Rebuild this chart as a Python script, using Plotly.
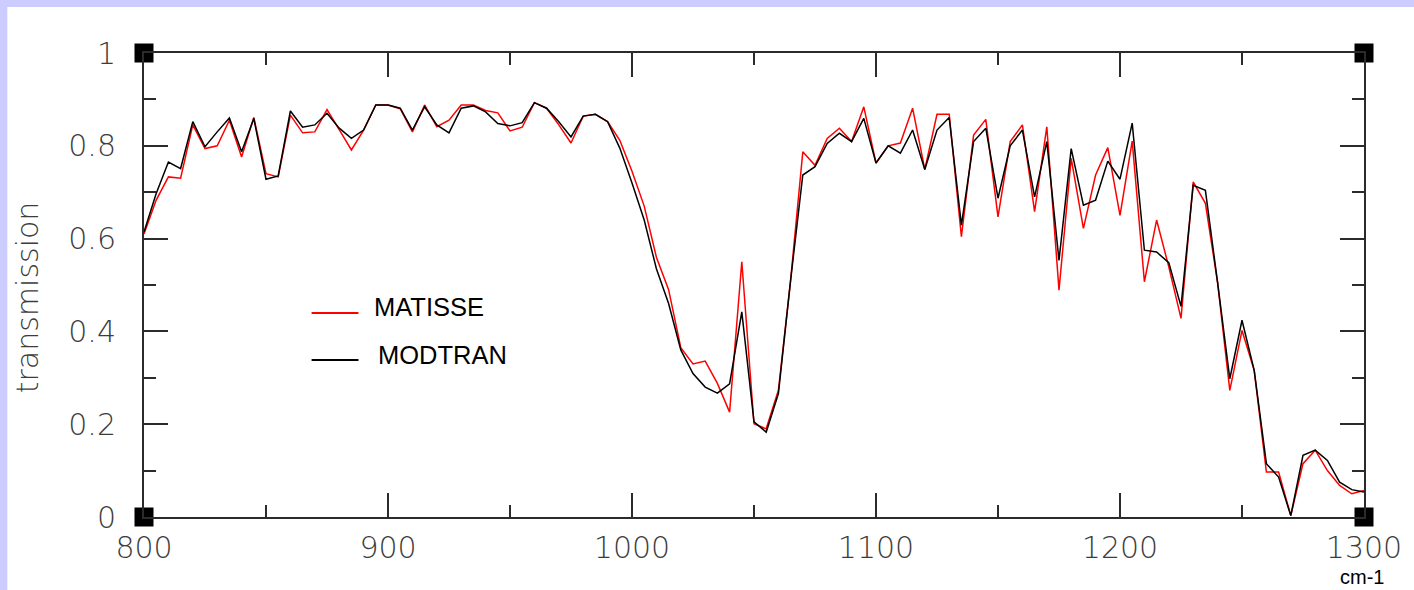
import plotly.graph_objects as go

# ---------------- data ----------------
wavenumber = [800, 805, 810, 815, 820, 825, 830, 835, 840, 845,
              850, 855, 860, 865, 870, 875, 880, 885, 890, 895,
              900, 905, 910, 915, 920, 925, 930, 935, 940, 945,
              950, 955, 960, 965, 970, 975, 980, 985, 990, 995,
              1000, 1005, 1010, 1015, 1020, 1025, 1030, 1035, 1040, 1045,
              1050, 1055, 1060, 1065, 1070, 1075, 1080, 1085, 1090, 1095,
              1100, 1105, 1110, 1115, 1120, 1125, 1130, 1135, 1140, 1145,
              1150, 1155, 1160, 1165, 1170, 1175, 1180, 1185, 1190, 1195,
              1200, 1205, 1210, 1215, 1220, 1225, 1230, 1235, 1240, 1245,
              1250, 1255, 1260, 1265, 1270, 1275, 1280, 1285, 1290, 1295,
              1300]

modtran = [0.614, 0.697, 0.765, 0.751, 0.852, 0.798, 0.830, 0.860, 0.787, 0.859,
           0.728, 0.735, 0.875, 0.840, 0.845, 0.870, 0.838, 0.816, 0.834, 0.888,
           0.888, 0.881, 0.834, 0.884, 0.845, 0.828, 0.881, 0.886, 0.873, 0.848,
           0.843, 0.850, 0.893, 0.881, 0.852, 0.819, 0.864, 0.868, 0.852, 0.795,
           0.720, 0.640, 0.535, 0.460, 0.360, 0.309, 0.280, 0.267, 0.287, 0.442,
           0.205, 0.183, 0.266, 0.510, 0.737, 0.755, 0.805, 0.827, 0.809, 0.859,
           0.763, 0.800, 0.784, 0.834, 0.749, 0.834, 0.861, 0.629, 0.809, 0.838,
           0.687, 0.800, 0.834, 0.690, 0.809, 0.553, 0.794, 0.672, 0.683, 0.767,
           0.728, 0.849, 0.575, 0.571, 0.548, 0.454, 0.715, 0.704, 0.505, 0.298,
           0.424, 0.316, 0.115, 0.086, 0.003, 0.133, 0.144, 0.122, 0.075, 0.059,
           0.054]

matisse = [0.610, 0.683, 0.733, 0.730, 0.845, 0.794, 0.800, 0.855, 0.776, 0.861,
           0.740, 0.733, 0.866, 0.828, 0.830, 0.878, 0.835, 0.791, 0.834, 0.888,
           0.888, 0.880, 0.830, 0.888, 0.841, 0.855, 0.888, 0.888, 0.876, 0.871,
           0.832, 0.840, 0.893, 0.881, 0.845, 0.806, 0.864, 0.868, 0.852, 0.812,
           0.745, 0.670, 0.560, 0.490, 0.365, 0.330, 0.336, 0.288, 0.226, 0.550,
           0.201, 0.190, 0.273, 0.510, 0.787, 0.758, 0.816, 0.838, 0.809, 0.884,
           0.763, 0.800, 0.806, 0.881, 0.749, 0.868, 0.868, 0.604, 0.823, 0.857,
           0.647, 0.809, 0.845, 0.658, 0.841, 0.489, 0.773, 0.622, 0.737, 0.796,
           0.650, 0.810, 0.507, 0.640, 0.539, 0.428, 0.722, 0.676, 0.505, 0.273,
           0.402, 0.316, 0.097, 0.097, 0.003, 0.115, 0.144, 0.100, 0.068, 0.050,
           0.057]

x_range = [800, 1300]
y_range = [0, 1]
x_tickvals = [800, 900, 1000, 1100, 1200, 1300]
x_ticktext = ["800", "900", "1000", "1100", "1200", "1300"]
y_tickvals = [0, 0.2, 0.4, 0.6, 0.8, 1]
y_ticktext = ["0", "0.2", "0.4", "0.6", "0.8", "1"]

# ---------------- layout constants ----------------
W, H = 1414, 590
ML, MR, MT, MB = 144, 47, 53, 73
PW, PH = W - ML - MR, H - MT - MB


def px(xp):
    return (xp - ML) / PW


def py(yp):
    return (H - MB - yp) / PH


AXIS_COLOR = "#2b2b2b"
LABEL_COLOR = "#3c3c3c"
THIN_FONT = "DejaVu Sans"

fig = go.Figure()

fig.add_trace(go.Scatter(x=wavenumber, y=matisse, mode="lines", name="MATISSE",
                         line=dict(color="#ff0000", width=1.5), showlegend=False))
fig.add_trace(go.Scatter(x=wavenumber, y=modtran, mode="lines", name="MODTRAN",
                         line=dict(color="#000000", width=1.5), showlegend=False))

# corner squares
fig.add_trace(go.Scatter(
    x=[x_range[0], x_range[0], x_range[1], x_range[1]],
    y=[y_range[0], y_range[1], y_range[0], y_range[1]],
    mode="markers", cliponaxis=False, showlegend=False, hoverinfo="skip",
    marker=dict(symbol="square", size=19, color="#000000", line=dict(width=0))))

axis_common = dict(
    showgrid=False, zeroline=False, showline=True, linecolor=AXIS_COLOR,
    linewidth=2, mirror="ticks", ticks="inside", tickcolor=AXIS_COLOR,
    tickwidth=2, ticklen=24,
    tickfont=dict(family=THIN_FONT, size=30, color=LABEL_COLOR, weight=200),
)

fig.update_xaxes(range=x_range, tickvals=x_tickvals, ticktext=x_ticktext,
                 minor=dict(ticks="inside", ticklen=12, dtick=50,
                            tickcolor=AXIS_COLOR, tickwidth=2),
                 ticklabelstandoff=3, **axis_common)
fig.update_yaxes(range=y_range, tickvals=y_tickvals, ticktext=y_ticktext,
                 minor=dict(ticks="inside", ticklen=12, dtick=0.1,
                            tickcolor=AXIS_COLOR, tickwidth=2),
                 ticklabelstandoff=20, **axis_common)

annotations = [
    dict(text="transmission", x=px(27), y=py(297), xref="paper", yref="paper",
         showarrow=False, textangle=-90, xanchor="center", yanchor="middle",
         font=dict(family=THIN_FONT, size=30, color=LABEL_COLOR, weight=200)),
    dict(text="cm-1", x=px(1365), y=py(589), xref="paper", yref="paper",
         showarrow=False, xanchor="center", yanchor="bottom",
         borderpad=0,
         font=dict(family="Liberation Sans", size=20, color="#000000")),
    dict(text="MATISSE", x=px(373), y=py(307), xref="paper", yref="paper",
         showarrow=False, xanchor="left", yanchor="middle",
         font=dict(family="Liberation Sans", size=25.5, color="#000000")),
    dict(text="MODTRAN", x=px(377), y=py(355), xref="paper", yref="paper",
         showarrow=False, xanchor="left", yanchor="middle",
         font=dict(family="Liberation Sans", size=25.5, color="#000000")),
]

shapes = [
    dict(type="rect", xref="paper", yref="paper", x0=px(7), x1=px(W + 20),
         y0=py(H + 20), y1=py(7), fillcolor="#ffffff", line=dict(width=0),
         layer="below"),
    dict(type="line", xref="paper", yref="paper", x0=px(312), x1=px(359),
         y0=py(313), y1=py(313), line=dict(color="#ff0000", width=2)),
    dict(type="line", xref="paper", yref="paper", x0=px(312), x1=px(359),
         y0=py(360), y1=py(360), line=dict(color="#000000", width=2)),
]

fig.update_layout(
    width=W, height=H,
    margin=dict(l=ML, r=MR, t=MT, b=MB, pad=0),
    paper_bgcolor="#ccccff", plot_bgcolor="#ffffff",
    annotations=annotations, shapes=shapes, showlegend=False,
)

fig.write_html("out.html")
